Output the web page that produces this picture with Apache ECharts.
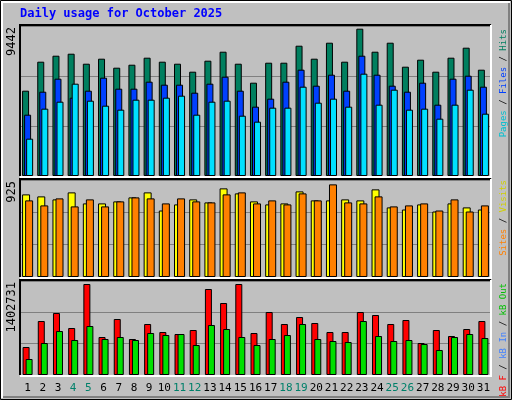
<!DOCTYPE html><html><head><meta charset="utf-8">
<script src="https://cdn.jsdelivr.net/npm/echarts@6/dist/echarts.min.js"></script>
<style>html,body{margin:0;padding:0;background:#fff}#c{width:512px;height:400px}</style></head>
<body><div id="c"></div><script>
const days=['1','2','3','4','5','6','7','8','9','10','11','12','13','14','15','16','17','18','19','20','21','22','23','24','25','26','27','28','29','30','31'];
const weekendDays=['4','5','11','12','18','19','25','26'];
const hits=[5468,7327,7711,7839,7198,7519,6942,7134,7583,7327,7198,6686,7391,7967,7198,5981,7262,7262,8352,7519,8544,7327,9442,7967,8544,7006,7455,6686,7583,8224,6814];
const files=[3930,5404,6237,5020,5468,6301,5596,5596,6045,5853,5853,5340,5917,6365,5468,4443,4956,6045,6814,5789,6493,5468,7711,6493,5789,5404,5981,4571,6237,6429,5724];
const pages=[2392,4315,4763,5917,4827,4507,4251,4891,4891,5020,5148,3930,4763,4827,3866,3482,4379,4379,5724,4699,4956,4443,6558,4571,5532,4251,4315,3674,4571,5532,3994];
const visits=[825,805,775,845,735,735,755,795,845,664,725,775,745,885,835,755,725,735,855,765,765,775,765,875,695,674,725,654,735,695,674];
const sites=[765,715,785,705,775,705,755,795,785,735,785,755,745,825,845,735,765,725,835,765,925,745,735,805,705,715,735,664,775,654,715];
const kbF=[431600,832400,955700,724500,1402731,585700,863200,554900,786100,662800,632000,693600,1325600,1109800,1402731,647400,971100,786100,894000,801500,662800,662800,971100,924800,786100,847800,493200,693600,601100,709000,832400];
const kbIn=[246600,493200,678200,539500,755300,554900,585700,539500,647400,616600,632000,462400,770700,709000,585700,462400,554900,616600,786100,554900,524100,508700,832400,601100,524100,539500,477800,385400,585700,632000,570300];
const maxLabels=['9442','925','1402731'];
const maxVals=[9442,925,1402731];
const font='"DejaVu Sans Mono", monospace';
const panels=[{top:26,h:150,frac:0.982},{top:180,h:97,frac:0.955},{top:281,h:94,frac:0.968}];
const grids=panels.map(p=>({left:20,width:471,top:p.top,height:p.h}));
const xAxes=panels.map((p,i)=>({type:'category',gridIndex:i,data:days,axisLine:{show:false},axisTick:{show:false},
 axisLabel:i===2?{show:true,interval:0,margin:8,fontFamily:font,fontSize:11,color:(v)=>weekendDays.includes(v)?'#00806a':'#000'}:{show:false}}));
const yAxes=panels.map((p,i)=>{const m=maxVals[i]/p.frac;return {type:'value',gridIndex:i,min:0,max:m,interval:m/3,axisLabel:{show:false},axisLine:{show:false},axisTick:{show:false},splitLine:{lineStyle:{color:'#808080',width:1}}};});
function bar(name,data,i,color,w,gap){return {name,type:'bar',xAxisIndex:i,yAxisIndex:i,data,barWidth:w,barGap:gap,itemStyle:{color,borderColor:'#000',borderWidth:1},silent:true,animation:false};}
const series=[
 bar('Hits',hits,0,'#007f5f',7,'-71%'),bar('Files',files,0,'#0040ff',7,'-71%'),bar('Pages',pages,0,'#00e0ff',7,'-71%'),
 bar('Visits',visits,1,'#ffff00',8,'-62%'),bar('Sites',sites,1,'#ff8000',8,'-62%'),
 bar('kB F',kbF,2,'#ff0000',7,'-57%'),bar('kB In',kbIn,2,'#00e000',7,'-57%')];
const graphic=[
 {type:'rect',shape:{x:0.5,y:0.5,width:511,height:399},style:{fill:'#c0c0c0',stroke:'#000'},z:-10},
 {type:'polyline',shape:{points:[[2,398],[2,2],[510,2]]},style:{stroke:'#fff',fill:null,lineWidth:2},z:-9},
 {type:'polyline',shape:{points:[[3,397],[509,397],[509,3]]},style:{stroke:'#808080',fill:null,lineWidth:2},z:-9},
 {type:'text',left:20,top:8,style:{text:'Daily usage for October 2025',fill:'#0000ff',font:'bold 12px '+font},z:5}];
panels.forEach((p,i)=>{
 graphic.push({type:'polyline',shape:{points:[[20,p.top+p.h],[20,p.top-1],[491,p.top-1]]},style:{stroke:'#000',fill:null,lineWidth:2},z:3});
 graphic.push({type:'polyline',shape:{points:[[20,p.top+p.h+1],[491,p.top+p.h+1],[491,p.top-1]]},style:{stroke:'#fff',fill:null,lineWidth:2},z:3});
 graphic.push({type:'text',x:6,y:p.top+1,rotation:Math.PI/2,style:{text:maxLabels[i],font:'12px '+font,fill:'#000',align:'right',verticalAlign:'top'},z:5});
});
function vlabel(y,parts){return {type:'text',x:499,y:y,rotation:Math.PI/2,style:{rich:Object.fromEntries(parts.map((p,k)=>['s'+k,{fill:p[1],font:'9px '+font}])),text:parts.map((p,k)=>'{s'+k+'|'+p[0]+'}').join(''),align:'right',verticalAlign:'top'},z:5};}
graphic.push(vlabel(29,[['Pages','#00c0d0'],[' / ','#000'],['Files','#0040ff'],[' / ','#000'],['Hits','#007f5f']]));
graphic.push(vlabel(180,[['Sites','#ff8000'],[' / ','#000'],['Visits','#d0d000']]));
graphic.push(vlabel(283,[['kB F','#ff0000'],[' / ','#000'],['kB In','#4080ff'],[' / ','#000'],['kB Out','#00c000']]));
const chart=echarts.init(document.getElementById('c'),null,{renderer:'canvas'});
chart.setOption({animation:false,backgroundColor:'transparent',grid:grids,xAxis:xAxes,yAxis:yAxes,series,graphic});
</script></body></html>
